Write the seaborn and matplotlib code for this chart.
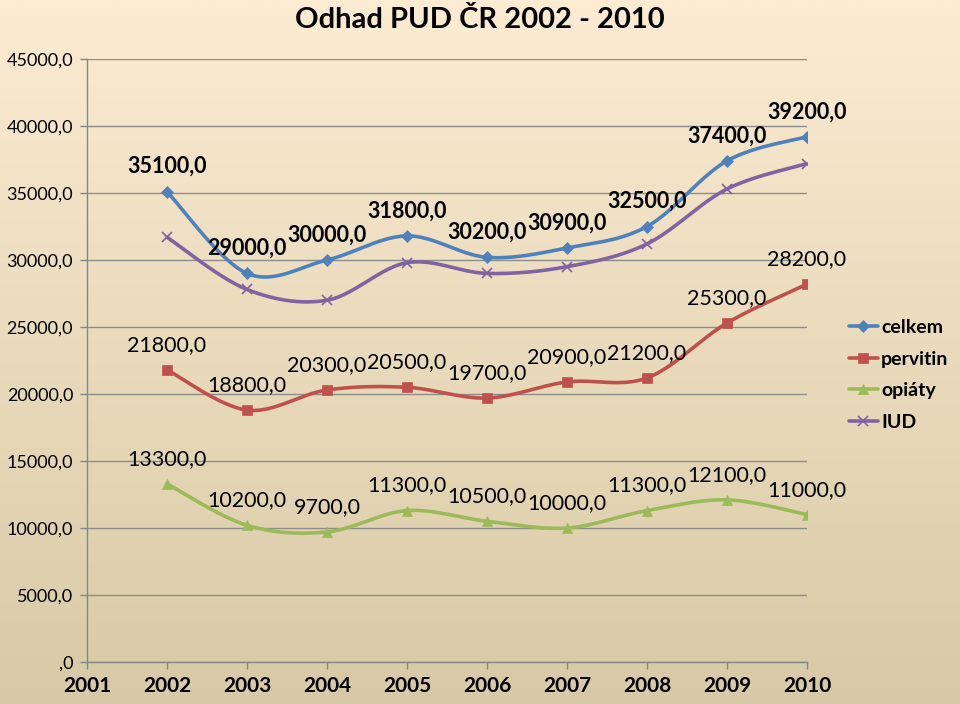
import numpy as np
import pandas as pd
import seaborn as sns
import matplotlib
matplotlib.use("Agg")
import matplotlib.pyplot as plt
from matplotlib.lines import Line2D
from matplotlib.ticker import FuncFormatter

# data
years = [2002, 2003, 2004, 2005, 2006, 2007, 2008, 2009, 2010]
celkem = [35100, 29000, 30000, 31800, 30200, 30900, 32500, 37400, 39200]
pervitin = [21800, 18800, 20300, 20500, 19700, 20900, 21200, 25300, 28200]
opiaty = [13300, 10200, 9700, 11300, 10500, 10000, 11300, 12100, 11000]
iud = [31700, 27800, 27000, 29800, 29000, 29500, 31200, 35300, 37200]
series_names = ["celkem", "pervitin", "opiáty", "IUD"]
x_ticks = list(range(2001, 2011))

colors = ["#4F81BD", "#C0504D", "#9BBB59", "#8064A2"]
markers = ["D", "s", "^", "x"]
msizes = [6, 7, 7.5, 7.5]
label_weight = ["bold", "normal", "normal", None]


def smooth(xs, ys, n=30):
    # Catmull-Rom style smoothing like Excel's "smoothed line"
    xs = np.asarray(xs, float)
    ys = np.asarray(ys, float)
    px = np.concatenate([[xs[0]], xs, [xs[-1]]])
    py = np.concatenate([[ys[0]], ys, [ys[-1]]])
    outx, outy = [], []
    t = np.linspace(0, 1, n)
    for i in range(1, len(px) - 2):
        p0x, p1x, p2x, p3x = px[i - 1:i + 3]
        p0y, p1y, p2y, p3y = py[i - 1:i + 3]
        c1x, c1y = p1x + (p2x - p0x) / 6, p1y + (p2y - p0y) / 6
        c2x, c2y = p2x - (p3x - p1x) / 6, p2y - (p3y - p1y) / 6
        bx = (1 - t) ** 3 * p1x + 3 * (1 - t) ** 2 * t * c1x + 3 * (1 - t) * t ** 2 * c2x + t ** 3 * p2x
        by = (1 - t) ** 3 * p1y + 3 * (1 - t) ** 2 * t * c1y + 3 * (1 - t) * t ** 2 * c2y + t ** 3 * p2y
        outx.extend(bx)
        outy.extend(by)
    return np.array(outx), np.array(outy)


sns.set_theme(style="white")
plt.rcParams["font.family"] = ["Lato", "DejaVu Sans"]
plt.rcParams["text.color"] = "black"
plt.rcParams["xtick.color"] = "black"
plt.rcParams["ytick.color"] = "black"

fig = plt.figure(figsize=(9.6, 7.04), dpi=100)

# gradient background
bg = fig.add_axes([0, 0, 1, 1], zorder=-1)
top = np.array([251, 236, 210]) / 255
bot = np.array([216, 201, 166]) / 255
grad = np.linspace(0, 1, 256)[:, None, None]
img = top * (1 - grad) + bot * grad
bg.imshow(np.repeat(img, 2, axis=1), aspect="auto", extent=[0, 1, 0, 1])
bg.axis("off")

ax = fig.add_axes([87 / 960, 1 - 662 / 704, 720 / 960, 603 / 704])
ax.set_facecolor("none")

all_values = [celkem, pervitin, opiaty, iud]
rows = []
for name, vals in zip(series_names, all_values):
    sx, sy = smooth(years, vals)
    for a, b in zip(sx, sy):
        rows.append({"rok": a, "hodnota": b, "serie": name})
curves = pd.DataFrame(rows)

sns.lineplot(data=curves, x="rok", y="hodnota", hue="serie", palette=colors,
             sort=False, estimator=None, lw=2.6, ax=ax, legend=False, zorder=3)

for vals, c, m, ms, w in zip(all_values, colors, markers, msizes, label_weight):
    ax.plot(years, vals, ls="none", marker=m, color=c, ms=ms,
            mew=1.2 if m == "x" else 0.5, zorder=4)
    if w is None:
        continue
    for xv, yv in zip(years, vals):
        ax.annotate(f"{yv:.1f}".replace(".", ","), (xv, yv), xytext=(0, 18),
                    textcoords="offset points", ha="center", va="center",
                    fontsize=15.5, fontweight=w, color="black", zorder=5)

ax.set_xlim(2001, 2010)
ax.set_ylim(0, 45000)
ax.set_xticks(x_ticks)
ax.set_xticklabels([str(v) for v in x_ticks], fontsize=15, fontweight="bold")
ax.set_yticks(np.arange(0, 45001, 5000))
ax.yaxis.set_major_formatter(FuncFormatter(lambda v, p: ",0" if v == 0 else f"{v:.1f}".replace(".", ",")))
ax.tick_params(axis="y", labelsize=13, length=5, width=1, color="#868686", pad=5, left=True)
ax.tick_params(axis="x", length=5, width=1, color="#868686", pad=5, bottom=True)
ax.set_xlabel("")
ax.set_ylabel("")
ax.grid(axis="y", color="#8c8c8c", lw=1)
ax.grid(axis="x", visible=False)
for s in ["top", "right"]:
    ax.spines[s].set_visible(False)
for s in ["left", "bottom"]:
    ax.spines[s].set_color("#868686")
    ax.spines[s].set_linewidth(1)

fig.text(480 / 960, 1 - 20 / 704, "Odhad PUD ČR 2002 - 2010", ha="center", va="center",
         fontsize=21, fontweight="bold")

handles = [Line2D([0], [0], color=c, lw=2.6, marker=m, ms=ms, mew=1.2 if m == "x" else 0.5)
           for c, m, ms in zip(colors, markers, msizes)]
leg = fig.legend(handles, series_names, loc="center left", bbox_to_anchor=(845 / 960, 1 - 375 / 704),
                 frameon=False, handlelength=1.5, handletextpad=0.15, labelspacing=0.75,
                 borderaxespad=0, borderpad=0.2, prop={"weight": "bold", "size": 14})

fig.savefig("out.png", dpi=100)
